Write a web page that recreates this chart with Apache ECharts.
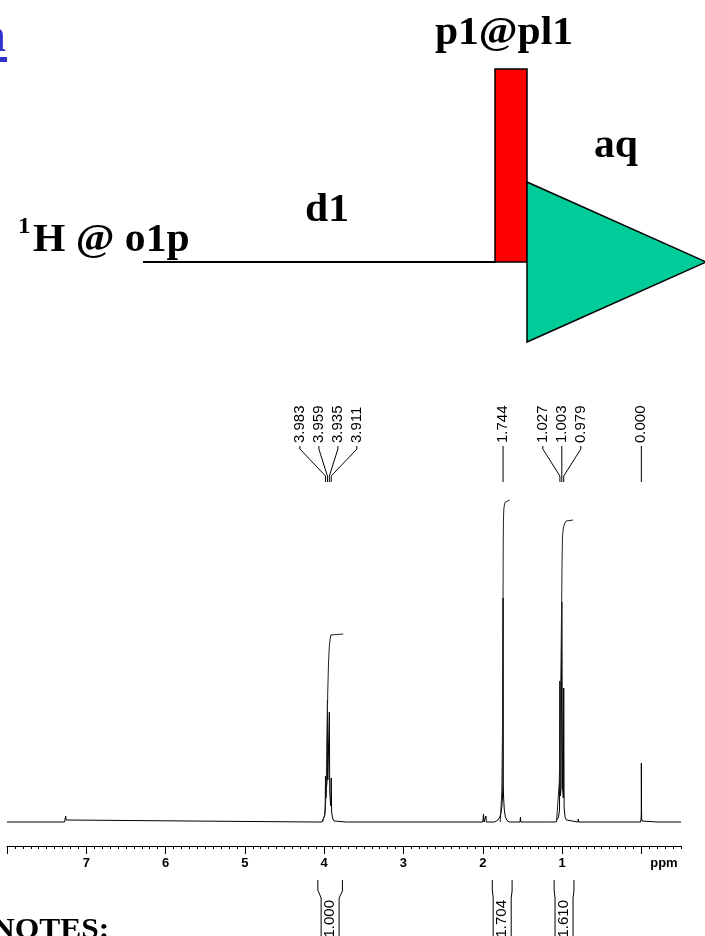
<!DOCTYPE html>
<html>
<head>
<meta charset="utf-8">
<title>1H NMR</title>
<script src="https://cdn.jsdelivr.net/npm/echarts@6/dist/echarts.min.js"></script>
<style>
html, body { margin: 0; padding: 0; background: #fff; }
#chart { width: 705px; height: 936px; }
</style>
</head>
<body>
<div id="chart"></div>
<script>
// spectrum trace pieces, [ppm, intensity]
const solventTrace = [[8.0, 0], [7.275, 0], [7.265, 2], [7.26, 6], [7.255, 2], [7.245, 0]];
const noiseTraceA = [[4.13, 0], [4.125, 1], [4.12, 0], [4.115, 1], [4.11, 0], [4.105, 1], [4.10, 0]];
const quartetTrace = [[4.03, 0], [4.01, 2], [3.995, 6], [3.988, 14], [3.983, 46], [3.978, 24], [3.971, 34],
  [3.964, 40], [3.959, 122], [3.954, 42], [3.947, 44], [3.940, 40], [3.935, 110], [3.930, 30],
  [3.923, 22], [3.916, 16], [3.911, 44], [3.906, 10], [3.895, 4], [3.875, 1], [3.85, 0]];
const noiseTraceB = [[3.72, 0], [3.715, 1], [3.71, 0], [3.705, 1], [3.70, 0], [3.695, 1], [3.69, 0]];
const impurityTrace = [[2.0, 0], [1.99, 8], [1.985, 0], [1.965, 0], [1.96, 6], [1.955, 0]];
const singletTrace = [[1.85, 0], [1.81, 2], [1.785, 5], [1.77, 9], [1.758, 16], [1.750, 28], [1.746, 40],
  [1.744, 224], [1.742, 38], [1.737, 24], [1.728, 12], [1.715, 5], [1.69, 1], [1.66, 0]];
const smallTraceA = [[1.53, 0], [1.525, 5], [1.52, 0], [1.21, 0], [1.205, 2], [1.19, 1], [1.18, 0]];
const tripletTrace = [[1.08, 0], [1.06, 2], [1.045, 5], [1.032, 12], [1.027, 141], [1.022, 26], [1.012, 34],
  [1.003, 220], [0.994, 34], [0.984, 24], [0.979, 134], [0.974, 14], [0.962, 5], [0.945, 2], [0.92, 0]];
const smallTraceB = [[0.80, 0], [0.795, 3], [0.79, 0], [0.20, 0], [0.195, 2], [0.19, 0]];
const tmsTrace = [[0.01, 0], [0.004, 3], [0.001, 8], [0.0, 59], [-0.002, 14], [-0.004, 4], [-0.008, 1],
  [-0.015, 0], [-0.2, 0], [-0.205, 1], [-0.21, 0], [-0.5, 0]];

// integral curves
const integralQuartet = [[4.02, 0], [3.99, 8], [3.975, 30], [3.965, 80], [3.955, 130], [3.945, 160],
  [3.935, 176], [3.925, 183], [3.915, 187], [3.905, 188], [3.76, 188]];
const integralSinglet = [[1.78, 0], [1.76, 30], [1.75, 100], [1.745, 200], [1.742, 280], [1.739, 302],
  [1.735, 312], [1.728, 317], [1.715, 320], [1.70, 321], [1.66, 322]];
const integralTriplet = [[1.07, 0], [1.035, 40], [1.02, 110], [1.008, 200], [1.0, 260], [0.995, 285],
  [0.985, 293], [0.97, 298], [0.95, 301], [0.93, 302], [0.86, 302]];

// peak picking labels
const peakLabelGroups = [[3.983, 3.959, 3.935, 3.911], [1.744], [1.027, 1.003, 0.979], [0.000]];

// integral regions below the axis
const integralFrom = [4.08, 1.88, 1.10];
const integralTo = [3.77, 1.63, 0.85];
const integralValues = ['1.000', '1.704', '1.610'];

// axis ticks
const majorTicks = [0, 1, 2, 3, 4, 5, 6, 7, 8];
const tickLabels = [7, 6, 5, 4, 3, 2, 1, -0.285];

const xMin = -0.5, xMax = 8;
const yMin = -24, yMax = 442;

const chart = echarts.init(document.getElementById('chart'));

const serif = 'Liberation Serif';
const sans = 'Liberation Sans';

const option = {
  animation: false,
  backgroundColor: '#fff',
  grid: { left: 7, right: 24, top: 380, bottom: 90 },
  xAxis: [
    {
      type: 'value',
      min: xMin,
      max: xMax,
      inverse: true,
      position: 'bottom',
      axisLine: { onZero: false, lineStyle: { color: '#000', width: 1 } },
      axisTick: { customValues: majorTicks, length: 8, lineStyle: { color: '#000' } },
      axisLabel: {
        customValues: tickLabels,
        color: '#000',
        fontSize: 13,
        fontWeight: 'bold',
        fontFamily: sans,
        margin: 11,
        formatter: v => (v < 0 ? 'ppm' : String(v))
      },
      splitLine: { show: false }
    },
    {
      type: 'value',
      min: xMin,
      max: xMax,
      interval: 0.1,
      inverse: true,
      position: 'bottom',
      axisLine: { show: false, onZero: false },
      axisTick: { length: 3, lineStyle: { color: '#000' } },
      axisLabel: { show: false },
      splitLine: { show: false }
    }
  ],
  yAxis: { type: 'value', min: yMin, max: yMax, show: false },
  series: [
    {
      name: 'spectrum',
      type: 'line',
      symbol: 'none',
      data: [].concat(solventTrace, noiseTraceA, quartetTrace, noiseTraceB, impurityTrace,
        singletTrace, smallTraceA, tripletTrace, smallTraceB, tmsTrace),
      lineStyle: { color: '#000', width: 1 },
      silent: true
    },
    ...[integralQuartet, integralSinglet, integralTriplet].map(d => ({
      type: 'line',
      symbol: 'none',
      data: d,
      lineStyle: { color: '#222', width: 1 },
      silent: true
    })),
    {
      type: 'custom',
      silent: true,
      data: peakLabelGroups.map(g => [g[0], 0]),
      renderItem: function (params, api) {
        const g = peakLabelGroups[params.dataIndex];
        const top = api.coord([0, yMax])[1];
        const xs = g.map(p => api.coord([p, 0])[0]);
        const mid = xs.reduce((a, b) => a + b, 0) / xs.length;
        const children = [];
        g.forEach((p, i) => {
          const lx = mid + (i - (g.length - 1) / 2) * 19;
          children.push({
            type: 'text',
            x: lx,
            y: top + 63,
            rotation: Math.PI / 2,
            style: { text: p.toFixed(3), fontSize: 15, fontFamily: sans, fill: '#000', align: 'left', verticalAlign: 'middle' }
          });
          children.push({
            type: 'polyline',
            shape: { points: [[lx, top + 66], [lx, top + 69], [xs[i], top + 96], [xs[i], top + 102]] },
            style: { stroke: '#000', lineWidth: 1, fill: null }
          });
        });
        return { type: 'group', children };
      }
    },
    {
      type: 'custom',
      silent: true,
      data: integralValues.map((v, i) => [integralFrom[i], 0]),
      renderItem: function (params, api) {
        const i = params.dataIndex;
        const axisY = api.coord([0, yMin])[1];
        const xl = api.coord([integralFrom[i], 0])[0];
        const xr = api.coord([integralTo[i], 0])[0];
        const cx = (xl + xr) / 2;
        const il = cx - 9, ir = cx + 9;
        return {
          type: 'group',
          children: [
            { type: 'polyline', shape: { points: [[xl, axisY + 34], [xl, axisY + 44], [il, axisY + 52], [il, axisY + 100]] },
              style: { stroke: '#000', lineWidth: 1, fill: null } },
            { type: 'polyline', shape: { points: [[xr, axisY + 34], [xr, axisY + 45], [ir, axisY + 52], [ir, axisY + 100]] },
              style: { stroke: '#000', lineWidth: 1, fill: null } },
            { type: 'text', x: cx, y: axisY + 54, rotation: Math.PI / 2,
              style: { text: integralValues[i], fontSize: 15, fontFamily: sans, fill: '#000', align: 'right', verticalAlign: 'middle' } }
          ]
        };
      }
    }
  ],
  graphic: [
    // pulse sequence sketch
    { type: 'text', x: 6, y: 39, scaleX: 1.1, style: { text: 'n', font: 'bold 48px ' + serif, fill: '#3333cc', align: 'right', verticalAlign: 'middle' } },
    { type: 'rect', shape: { x: 0, y: 57, width: 7, height: 5 }, style: { fill: '#3333cc' } },
    { type: 'text', x: 504, y: 34, scaleX: 1.04, style: { text: 'p1@pl1', font: 'bold 40px ' + serif, fill: '#000', align: 'center', verticalAlign: 'middle' } },
    { type: 'text', x: 616, y: 147, scaleX: 1.04, style: { text: 'aq', font: 'bold 40px ' + serif, fill: '#000', align: 'center', verticalAlign: 'middle' } },
    { type: 'text', x: 327, y: 211, scaleX: 1.04, style: { text: 'd1', font: 'bold 40px ' + serif, fill: '#000', align: 'center', verticalAlign: 'middle' } },
    { type: 'text', x: 18, y: 227, scaleX: 1.04, style: { text: '1', font: 'bold 24px ' + serif, fill: '#000', align: 'left', verticalAlign: 'middle' } },
    { type: 'text', x: 33, y: 241, scaleX: 1.04, style: { text: 'H @ o1p', font: 'bold 40px ' + serif, fill: '#000', align: 'left', verticalAlign: 'middle' } },
    { type: 'line', shape: { x1: 143, y1: 262, x2: 496, y2: 262 }, style: { stroke: '#000', lineWidth: 2 } },
    { type: 'rect', shape: { x: 495, y: 69, width: 32, height: 193 }, style: { fill: '#ff0000', stroke: '#000', lineWidth: 1.5 } },
    { type: 'polygon', shape: { points: [[527, 182], [527, 342], [706, 262]] }, style: { fill: '#00cc99', stroke: '#000', lineWidth: 1.5 } },
    { type: 'text', x: -8, y: 930, scaleX: 1.05, style: { text: 'NOTES:', font: 'bold 30px ' + serif, fill: '#000', align: 'left', verticalAlign: 'middle' } }
  ]
};

chart.setOption(option);

window.addEventListener('resize', () => {
  chart.resize();
});
</script>
</body>
</html>
